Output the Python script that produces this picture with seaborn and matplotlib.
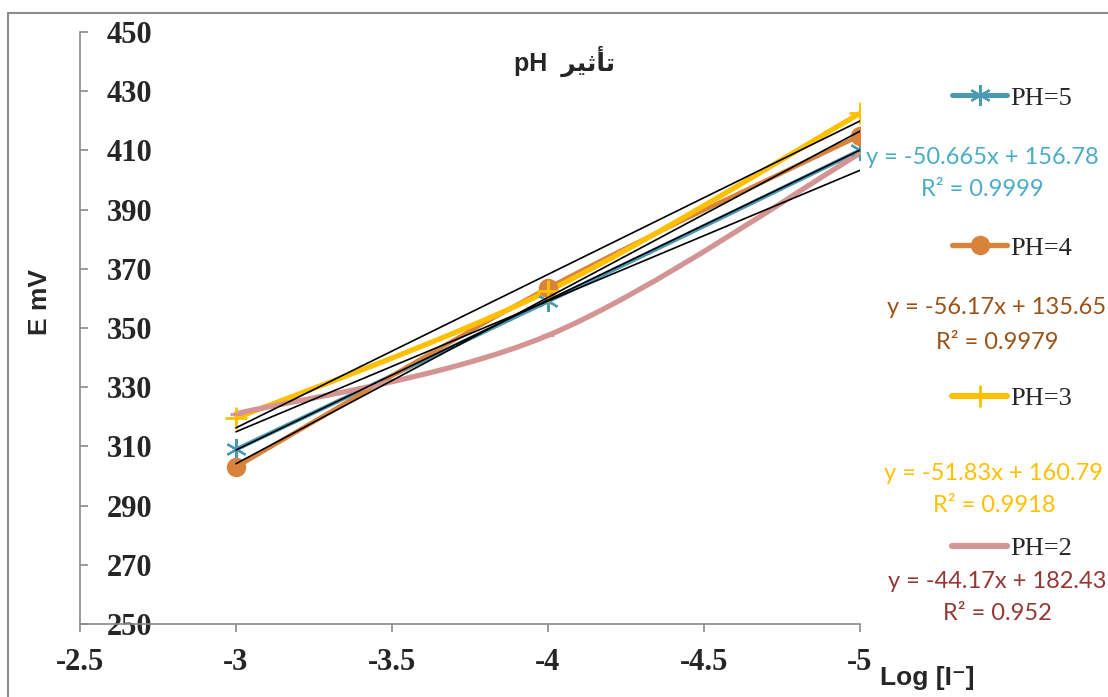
import numpy as np
import matplotlib
matplotlib.use("Agg")
import matplotlib.pyplot as plt
import seaborn as sns
from matplotlib.path import Path
from matplotlib.patches import PathPatch, Rectangle
from matplotlib.lines import Line2D

# ---- data ----
log_iodide = [-3, -4, -5]
series_labels = ["PH=5", "PH=4", "PH=3", "PH=2"]
e_ph5 = [309.0, 359.0, 410.0]
e_ph4 = [303.0, 363.5, 415.0]
e_ph3 = [319.5, 362.5, 422.5]
e_ph2 = [321.0, 347.5, 409.0]
fit_slopes = [-50.665, -56.17, -51.83, -44.17]
fit_intercepts = [156.78, 135.65, 160.79, 182.43]
fit_r2 = [0.9999, 0.9979, 0.9918, 0.952]
x_ticks = [-2.5, -3, -3.5, -4, -4.5, -5]
y_ticks = list(range(250, 451, 20))

series_values = [e_ph5, e_ph4, e_ph3, e_ph2]

# ---- styling ----
line_colors = ["#4A9AB4", "#D9823B", "#FFC000", "#D49494"]
eq_colors = ["#4BACC6", "#9C5215", "#FFC000", "#953735"]
line_widths = [3.0, 3.2, 3.8, 3.8]
marker_styles = [
    dict(marker=(6, 2, 0), markersize=15, markeredgewidth=1.6),
    dict(marker="o", markersize=14, markeredgewidth=0),
    dict(marker="+", markersize=16, markeredgewidth=2.0),
    dict(marker="_", markersize=9, markeredgewidth=2.0),
]
legend_y_px = [98, 248, 398, 548]
eq_pos_px = [(982, 157, 190), (997, 308, 342), (994, 473, 505), (997, 582, 613)]

sns.set_theme(style="white")
plt.rcParams["axes.unicode_minus"] = False
plt.rcParams["font.family"] = ["Liberation Serif", "DejaVu Sans"]

W, H = 1108, 697
fig = plt.figure(figsize=(W / 100, H / 100), dpi=100)
ax = fig.add_axes([80 / W, 1 - 624 / H, 780 / W, 592 / H])
ax.set_facecolor("white")


def smooth_path(xs, ys):
    """Cubic Bezier path through the points (spreadsheet-style smoothed line)."""
    pts = np.column_stack([xs, ys]).astype(float)
    n = len(pts)
    verts = [pts[0]]
    codes = [Path.MOVETO]
    for i in range(n - 1):
        p_prev = pts[max(i - 1, 0)]
        p0, p1 = pts[i], pts[i + 1]
        p_next = pts[min(i + 2, n - 1)]
        c1 = p0 + (p1 - p_prev) / 6.0
        c2 = p1 - (p_next - p0) / 6.0
        verts += [c1, c2, p1]
        codes += [Path.CURVE4] * 3
    return Path(verts, codes)


# series: smoothed line + markers
for i, vals in enumerate(series_values):
    ax.add_patch(PathPatch(smooth_path(log_iodide, vals), fill=False,
                           edgecolor=line_colors[i], lw=line_widths[i],
                           capstyle="round", joinstyle="round", zorder=2 + 0.1 * i))
    ms = marker_styles[i]
    sns.lineplot(x=log_iodide, y=vals, ax=ax, linestyle="none",
                 color=line_colors[i], marker=ms["marker"],
                 markersize=ms["markersize"], markeredgewidth=ms["markeredgewidth"],
                 markeredgecolor=line_colors[i], markerfacecolor=line_colors[i],
                 zorder=3 + 0.1 * i, legend=False)

# linear trendlines from the fitted equations
for m, b in zip(fit_slopes, fit_intercepts):
    xs = np.array([log_iodide[0], log_iodide[-1]], dtype=float)
    sns.lineplot(x=xs, y=m * xs + b, ax=ax, color="black", lw=1.2,
                 zorder=5, legend=False)

# axes
ax.set_xlim(-2.5, -5)
ax.set_ylim(250, 450)
ax.set_xticks(x_ticks)
ax.set_xticklabels([f"{t:g}" for t in x_ticks])
ax.set_yticks(y_ticks)
ax.set_yticklabels([str(t) for t in y_ticks])
for side in ["top", "right"]:
    ax.spines[side].set_visible(False)
for side in ["left", "bottom"]:
    ax.spines[side].set_color("#8A8A8A")
    ax.spines[side].set_linewidth(1.2)
ax.grid(False)

tick_font = dict(family=["Liberation Serif", "DejaVu Sans"], weight="bold", size=22)
ax.tick_params(axis="y", direction="in", length=6, width=1.2, color="#8A8A8A",
               pad=-19.5, left=True)
ax.tick_params(axis="x", direction="out", length=6, width=1.2, color="#8A8A8A",
               pad=11, bottom=True)
for lab in ax.get_yticklabels():
    lab.set_fontproperties(tick_font)
    lab.set_horizontalalignment("left")
for lab in ax.get_xticklabels():
    lab.set_fontproperties(tick_font)

label_font = dict(family=["Liberation Sans", "DejaVu Sans"], weight="bold")
ax.set_ylabel("E mV", fontsize=19, **label_font)
ax.yaxis.set_label_coords((52 - 80) / 780, (624 - 302) / 592)
ax.set_xlabel("Log [I\u207b]", fontsize=19, ha="left", va="baseline", **label_font)
ax.xaxis.set_label_coords((880 - 80) / 780, (624 - 685) / 592)

# title (Arabic word written in visual order with contextual forms)
title_ar = "\ufeae\ufef4\ufe9b\ufe84\ufe97"
fig.text(565 / W, 1 - 71 / H, "pH  " + title_ar, ha="center", va="baseline",
         fontsize=18, **label_font)

# legend entries, each placed beside its equation block
for i, lab in enumerate(series_labels):
    ms = marker_styles[i]
    handle = Line2D([0], [0], color=line_colors[i], lw=line_widths[i] + 0.6,
                    solid_capstyle="round", marker=ms["marker"],
                    markersize=ms["markersize"], markeredgewidth=ms["markeredgewidth"],
                    markeredgecolor=line_colors[i], markerfacecolor=line_colors[i])
    fig.legend(handles=[handle], labels=[lab], loc="center left",
               bbox_to_anchor=(952 / W, 1 - legend_y_px[i] / H), frameon=False,
               borderpad=0, borderaxespad=0, handlelength=2.1, handletextpad=0.12,
               prop=dict(family="Liberation Serif", size=19))

# trendline equations
for i, (m, b, r2) in enumerate(zip(fit_slopes, fit_intercepts, fit_r2)):
    cx, y1, y2 = eq_pos_px[i]
    fig.text(cx / W, 1 - y1 / H, f"y = {m}x + {b}", ha="center", va="center",
             fontsize=17, family="Lato", color=eq_colors[i])
    fig.text(cx / W, 1 - y2 / H, f"R\u00b2 = {r2}", ha="center", va="center",
             fontsize=17, family="Lato", color=eq_colors[i])

# chart area border
fig.add_artist(Rectangle((8 / W, -0.1), 2.0, 1.1 - 13 / H, transform=fig.transFigure,
                         fill=False, edgecolor="#8C8C8C", lw=1.5))

fig.savefig("out.png", dpi=100, facecolor="white")
